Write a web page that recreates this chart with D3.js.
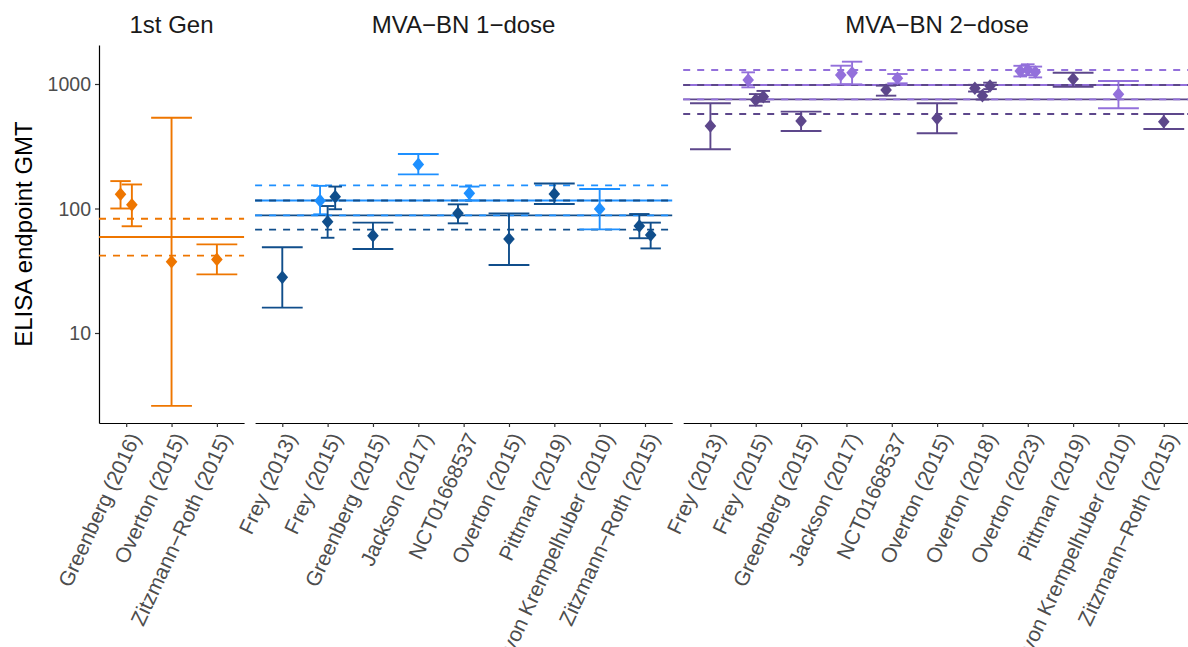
<!DOCTYPE html>
<html>
<head>
<meta charset="utf-8">
<script src="https://cdn.jsdelivr.net/npm/d3@7"></script>
<style>
  body { margin: 0; background: #fff; }
  svg { display: block; font-family: "Liberation Sans", Arial, Helvetica, sans-serif; }
</style>
</head>
<body>
<svg id="chart" width="1188" height="647"></svg>
<script>
// ---------------- DATA ----------------
const panelTitles = ["1st Gen", "MVA\u2212BN 1\u2212dose", "MVA\u2212BN 2\u2212dose"];

const gen1Studies = ["Greenberg (2016)", "Overton (2015)", "Zitzmann\u2212Roth (2015)"];
const dose1Studies = ["Frey (2013)", "Frey (2015)", "Greenberg (2015)", "Jackson (2017)", "NCT01668537",
  "Overton (2015)", "Pittman (2019)", "von Krempelhuber (2010)", "Zitzmann\u2212Roth (2015)"];
const dose2Studies = ["Frey (2013)", "Frey (2015)", "Greenberg (2015)", "Jackson (2017)", "NCT01668537",
  "Overton (2015)", "Overton (2018)", "Overton (2023)", "Pittman (2019)", "von Krempelhuber (2010)", "Zitzmann\u2212Roth (2015)"];

// study arms: study, group (a = lighter, b = darker), GMT, lower CI, upper CI
const gen1ArmStudy = ["Greenberg (2016)", "Greenberg (2016)", "Overton (2015)", "Zitzmann\u2212Roth (2015)"];
const gen1ArmGroup = ["o", "o", "o", "o"];
const gen1Gmt = [130, 107, 37.4, 39];
const gen1Lo  = [100, 72, 2.6, 29.6];
const gen1Hi  = [166, 156, 535, 51.5];

const dose1ArmStudy = ["Frey (2013)", "Frey (2015)", "Frey (2015)", "Frey (2015)", "Greenberg (2015)", "Jackson (2017)",
  "NCT01668537", "NCT01668537", "Overton (2015)", "Pittman (2019)", "von Krempelhuber (2010)",
  "Zitzmann\u2212Roth (2015)", "Zitzmann\u2212Roth (2015)"];
const dose1ArmGroup = ["b", "a", "b", "b", "b", "a", "b", "a", "b", "b", "a", "b", "b"];
const dose1Gmt = [28, 115.6, 78.3, 124.5, 60.5, 226, 91.4, 132.4, 56.9, 130.7, 99, 72.3, 61.2];
const dose1Lo  = [16, 89.8, 58.2, 98.6, 47.3, 188, 76, 116, 35.2, 108.7, 68, 57.7, 47.8];
const dose1Hi  = [48.8, 152, 104.7, 150, 77, 274, 108, 150, 91.4, 159, 143.5, 90.3, 77];

const dose2ArmStudy = ["Frey (2013)", "Frey (2015)", "Frey (2015)", "Frey (2015)", "Greenberg (2015)",
  "Jackson (2017)", "Jackson (2017)", "NCT01668537", "NCT01668537", "Overton (2015)",
  "Overton (2018)", "Overton (2018)", "Overton (2018)", "Overton (2023)", "Overton (2023)", "Overton (2023)",
  "Pittman (2019)", "von Krempelhuber (2010)", "Zitzmann\u2212Roth (2015)"];
const dose2ArmGroup = ["b", "a", "b", "b", "b", "a", "a", "b", "a", "b", "b", "b", "b", "a", "a", "a", "b", "a", "b"];
const dose2Gmt = [460, 1077, 745, 790, 505, 1181, 1233, 895, 1111, 530, 924, 806, 964, 1270, 1300, 1250, 1097, 826, 498];
const dose2Lo  = [299, 940, 670, 720, 419, 994, 994, 806, 1013, 402, 870, 750, 910, 1150, 1180, 1130, 951, 638, 435];
const dose2Hi  = [700, 1241, 830, 880, 600, 1403, 1511, 970, 1203, 700, 985, 865, 1025, 1400, 1440, 1380, 1233, 1057, 574];

// pooled estimates per group: [estimate, lower, upper]
const gen1PooledGroup = ["o"];
const gen1Pooled = [[59, 41.8, 82.8]];
const dose1PooledGroup = ["a", "b"];
const dose1Pooled = [[116, 88, 153.5], [88, 67.6, 116]];
const dose2PooledGroup = ["a", "b"];
const dose2Pooled = [[981, 753, 1295], [753, 574, 981]];

const yTicks = [10, 100, 1000];
const yTitle = "ELISA endpoint GMT";

// ---------------- STYLE / LAYOUT ----------------
const colors = [
  { o: "#EE7600" },
  { a: "#1E90FF", b: "#104E8B" },
  { a: "#9370DB", b: "#5D478B" }
];

const panels = [
  { title: panelTitles[0], studies: gen1Studies, armStudy: gen1ArmStudy, armGroup: gen1ArmGroup, gmt: gen1Gmt, lo: gen1Lo, hi: gen1Hi, pooledGroup: gen1PooledGroup, pooled: gen1Pooled },
  { title: panelTitles[1], studies: dose1Studies, armStudy: dose1ArmStudy, armGroup: dose1ArmGroup, gmt: dose1Gmt, lo: dose1Lo, hi: dose1Hi, pooledGroup: dose1PooledGroup, pooled: dose1Pooled },
  { title: panelTitles[2], studies: dose2Studies, armStudy: dose2ArmStudy, armGroup: dose2ArmGroup, gmt: dose2Gmt, lo: dose2Lo, hi: dose2Hi, pooledGroup: dose2PooledGroup, pooled: dose2Pooled }
];

const plotLeft = 99, plotRight = 1191, plotTop = 45, plotBottom = 423, panelGap = 11;
const pad = 0.6;
const totalUnits = d3.sum(panels, p => p.studies.length - 1 + 2 * pad);
const unit = (plotRight - plotLeft - panelGap * (panels.length - 1)) / totalUnits;
const lw = 1.9;

const svg = d3.select("#chart");

const y = d3.scaleLog()
  .domain([Math.pow(10, 0.2771), Math.pow(10, 3.3133)])
  .range([plotBottom, plotTop]);

// Y axis
const yAxis = svg.append("g")
  .attr("transform", `translate(${plotLeft},0)`)
  .call(d3.axisLeft(y).tickValues(yTicks).tickFormat(d3.format("d")).tickSize(4).tickSizeOuter(0));
yAxis.select(".domain").attr("stroke", "#000").attr("stroke-width", 1.2);
yAxis.selectAll(".tick line").attr("stroke", "#333").attr("stroke-width", 1.2);
yAxis.selectAll(".tick text").attr("fill", "#4D4D4D").attr("font-size", 19.5)
  .attr("x", -8).attr("dy", "0.35em");

svg.append("text")
  .attr("transform", `translate(32,${(plotTop + plotBottom) / 2}) rotate(-90)`)
  .attr("text-anchor", "middle")
  .attr("font-size", 24)
  .attr("fill", "#000")
  .text(yTitle);

const diamond = (hw, hh) => `M0,${-hh}L${hw},0L0,${hh}L${-hw},0Z`;

let x0 = plotLeft;
panels.forEach((p, pi) => {
  const n = p.studies.length;
  const w = (n - 1 + 2 * pad) * unit;
  const x = d3.scalePoint().domain(p.studies).range([x0, x0 + w]).padding(pad);
  const step = x.step();
  const g = svg.append("g");

  // strip title
  svg.append("text")
    .attr("x", x0 + w / 2).attr("y", 33)
    .attr("text-anchor", "middle")
    .attr("font-size", 24)
    .attr("fill", "#1A1A1A")
    .text(p.title);

  // pooled lines: solid first, then dashed
  p.pooled.forEach((v, k) => {
    g.append("line")
      .attr("x1", x0).attr("x2", x0 + w)
      .attr("y1", y(v[0])).attr("y2", y(v[0]))
      .attr("stroke", colors[pi][p.pooledGroup[k]]).attr("stroke-width", lw);
  });
  p.pooled.forEach((v, k) => {
    [v[1], v[2]].forEach(val => {
      g.append("line")
        .attr("x1", x0).attr("x2", x0 + w)
        .attr("y1", y(val)).attr("y2", y(val))
        .attr("stroke", colors[pi][p.pooledGroup[k]]).attr("stroke-width", lw)
        .attr("stroke-dasharray", "7,7");
    });
  });

  // arms with dodge
  const arms = p.gmt.map((v, i) => ({ study: p.armStudy[i], group: p.armGroup[i], gmt: v, lo: p.lo[i], hi: p.hi[i] }));
  const byStudy = d3.group(arms, d => d.study);
  byStudy.forEach(list => {
    const m = list.length;
    list.forEach((d, i) => {
      d.cx = x(d.study) + (i - (m - 1) / 2) * (0.5 * step / m);
      d.cap = 0.9 * step / m;
    });
  });

  arms.forEach(d => {
    const c = colors[pi][d.group];
    g.append("line").attr("x1", d.cx).attr("x2", d.cx)
      .attr("y1", y(d.lo)).attr("y2", y(d.hi))
      .attr("stroke", c).attr("stroke-width", lw);
    [d.lo, d.hi].forEach(v => {
      g.append("line").attr("x1", d.cx - d.cap / 2).attr("x2", d.cx + d.cap / 2)
        .attr("y1", y(v)).attr("y2", y(v))
        .attr("stroke", c).attr("stroke-width", lw);
    });
  });
  arms.forEach(d => {
    g.append("path")
      .attr("d", diamond(5.8, 6.8))
      .attr("transform", `translate(${d.cx},${y(d.gmt)})`)
      .attr("fill", colors[pi][d.group]);
  });

  // x axis
  const xa = svg.append("g")
    .attr("transform", `translate(0,${plotBottom})`)
    .call(d3.axisBottom(x).tickSize(4).tickSizeOuter(0));
  xa.select(".domain").attr("stroke", "#000").attr("stroke-width", 1.2);
  xa.selectAll(".tick line").attr("stroke", "#333").attr("stroke-width", 1.2);
  xa.selectAll(".tick text")
    .attr("fill", "#4D4D4D").attr("font-size", 21)
    .attr("x", 0).attr("y", 0).attr("dy", "0.71em")
    .attr("text-anchor", "end")
    .attr("transform", "translate(1,8) rotate(-65)");

  x0 += w + panelGap;
});
</script>
</body>
</html>
